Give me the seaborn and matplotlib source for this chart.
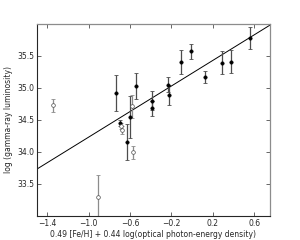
import numpy as np
import pandas as pd
import matplotlib
matplotlib.use('Agg')
import matplotlib.pyplot as plt
import seaborn as sns

# filled points (detected sources)
x_filled = [-0.733, -0.700, -0.627, -0.598, -0.546, -0.385, -0.385, -0.230, -0.225,
            -0.107, -0.014, 0.128, 0.292, 0.376, 0.560]
y_filled = [34.92, 34.45, 34.15, 34.55, 35.03, 34.80, 34.68, 35.05, 34.89,
            35.41, 35.57, 35.17, 35.39, 35.41, 35.78]
err_filled = [0.28, 0.05, 0.28, 0.33, 0.20, 0.15, 0.12, 0.12, 0.15,
              0.19, 0.11, 0.10, 0.18, 0.18, 0.17]

# open points
x_open = [-1.348, -0.913, -0.688, -0.675, -0.578, -0.569]
y_open = [34.73, 33.30, 34.40, 34.34, 34.71, 33.99]
err_open = [0.10, 0.33, 0.05, 0.06, 0.18, 0.10]

# fitted relation
line_x = [-1.5, 0.75]
line_y = [33.73, 35.98]

x_ticks = [-1.4, -1.0, -0.6, -0.2, 0.2, 0.6]
y_ticks = [33.5, 34.0, 34.5, 35.0, 35.5]

sns.set_style('ticks')
plt.rcParams['font.family'] = ['DejaVu Sans']

fig = plt.figure(figsize=(3.0, 2.4), dpi=100)
ax = fig.add_axes([0.123, 0.101, 0.776, 0.799])

# line first, then bars, then markers
sns.lineplot(x=line_x, y=line_y, color='black', lw=0.7, ax=ax)

ax.errorbar(x_filled, y_filled, yerr=err_filled, fmt='none', ecolor='0.3',
            elinewidth=0.9, capsize=1.5, capthick=0.6)
ax.errorbar(x_open, y_open, yerr=err_open, fmt='none', ecolor='0.55',
            elinewidth=0.9, capsize=1.5, capthick=0.6)

df_f = pd.DataFrame({'x': x_filled, 'y': y_filled})
df_o = pd.DataFrame({'x': x_open, 'y': y_open})
sns.scatterplot(data=df_f, x='x', y='y', marker='o', s=6, color='black',
                edgecolor='black', linewidth=0.4, ax=ax, zorder=3)
sns.scatterplot(data=df_o, x='x', y='y', marker='o', s=7, color='white',
                edgecolor='0.3', linewidth=0.5, ax=ax, zorder=3)

ax.set_xlim(-1.5, 0.75)
ax.set_ylim(33.0, 36.0)
ax.set_xticks(x_ticks)
ax.set_yticks(y_ticks)
ax.set_xticklabels(['\u2212' + f'{abs(v):.1f}' if v < 0 else f'{v:.1f}' for v in x_ticks])
ax.set_yticklabels([f'{v:.1f}' for v in y_ticks])
ax.tick_params(direction='in', length=3, width=0.6, labelsize=5.5, top=True, right=True,
               color='0.3', pad=2)

for side in ['left', 'bottom']:
    ax.spines[side].set_color('0.15')
    ax.spines[side].set_linewidth(0.8)
for side in ['top', 'right']:
    ax.spines[side].set_color('0.55')
    ax.spines[side].set_linewidth(0.9)

ax.set_xlabel('0.49 [Fe/H] + 0.44 log(optical photon-energy density)', fontsize=5.5, labelpad=2)
ax.set_ylabel('log (gamma-ray luminosity)', fontsize=5.5, labelpad=3)

fig.savefig('out.png', dpi=100)
